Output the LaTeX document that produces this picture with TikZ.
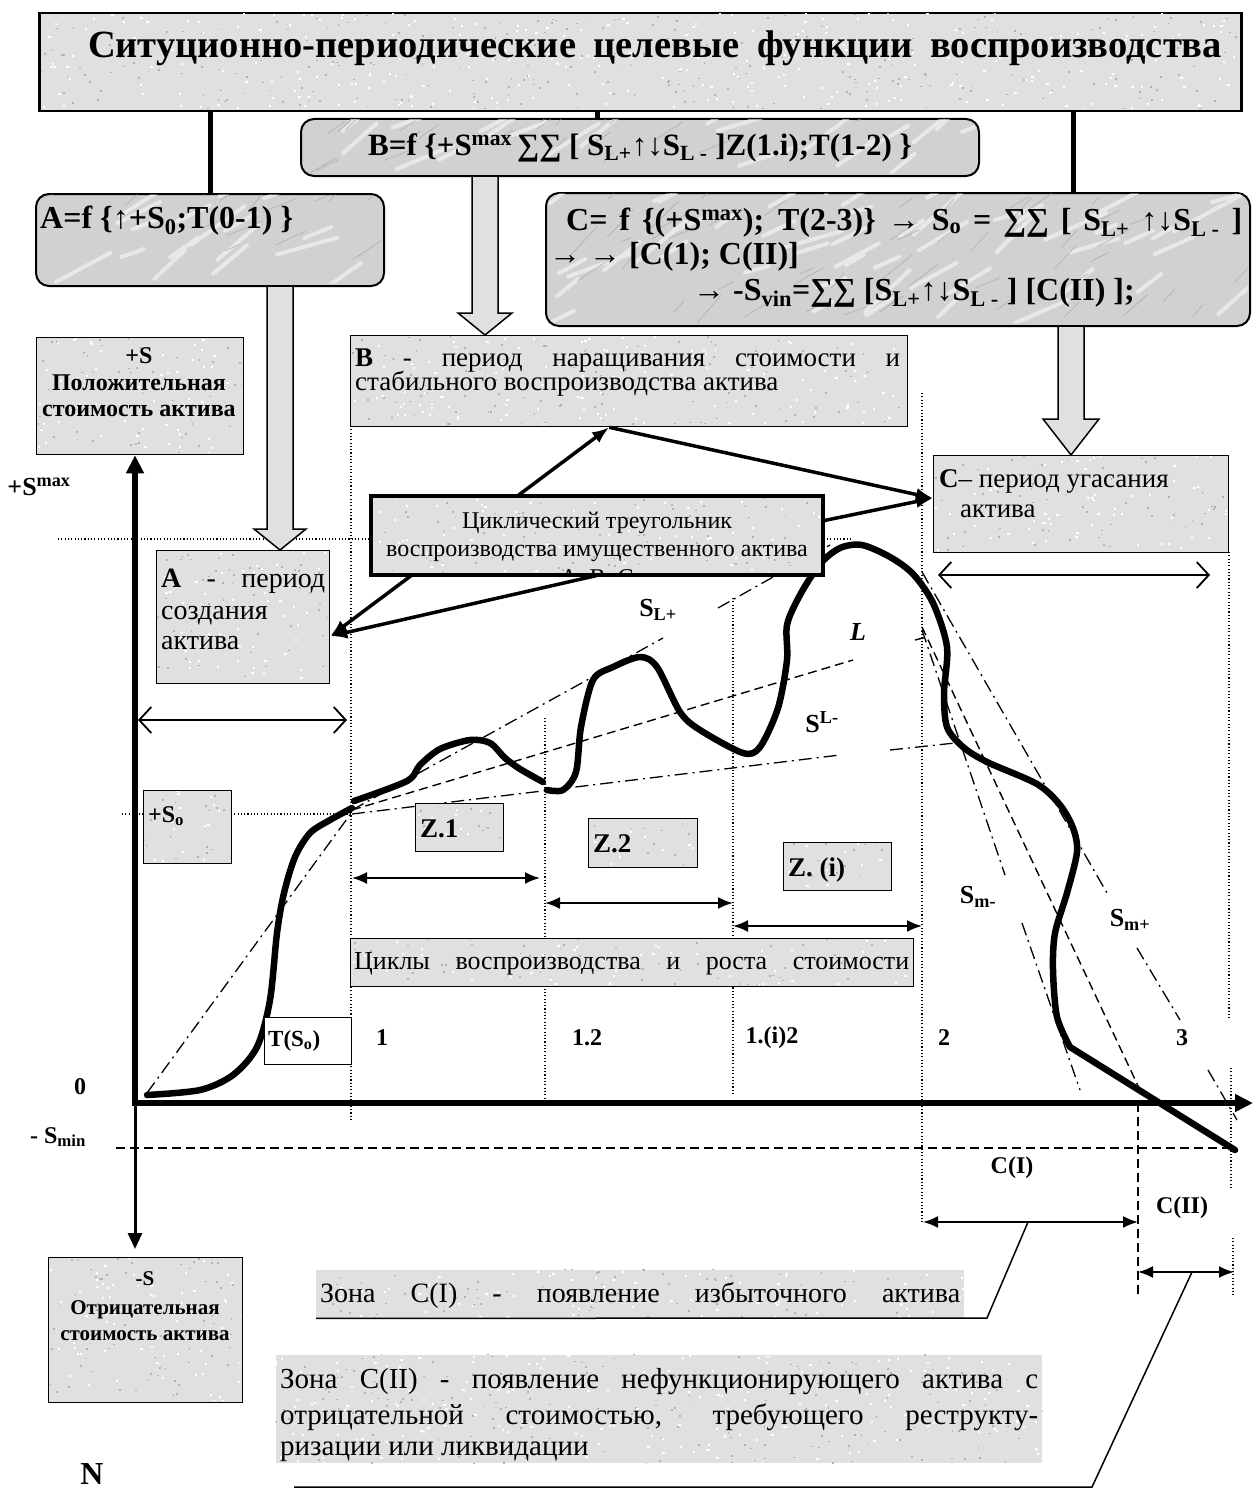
\documentclass[tikz,border=0pt]{standalone}
\usepackage{fontspec}
\setmainfont{Liberation Serif}
\usetikzlibrary{arrows.meta}
\definecolor{granite}{gray}{0.88}
\definecolor{marble}{gray}{0.82}
\definecolor{grain}{gray}{0.70}
\definecolor{vein}{gray}{0.91}
\newcommand\fsz[1]{\fontsize{#1}{#1}\selectfont}
\newcommand\lo[1]{\textsubscript{#1}}
\newcommand\hi[1]{\textsuperscript{#1}}
% hollow block arrow: #1 top point, #2 tip point, #3 head length, #4 head half-width
\newcommand\blockarrow[4]{%
  \filldraw[blockarr] ([xshift=-13pt]#1) -- ([xshift=-13pt,yshift=#3]#2)
    -- ([xshift=-#4,yshift=#3]#2) -- (#2) -- ([xshift=#4,yshift=#3]#2)
    -- ([xshift=13pt,yshift=#3]#2) -- ([xshift=13pt]#1);}
% granite grain inside a rectangle x1,y1,x2,y2
\newcommand\speckle[4]{%
  \pgfmathsetmacro\spw{#3-#1}\pgfmathsetmacro\sph{#4-#2}%
  \pgfmathtruncatemacro\spn{(\spw/20)*(\sph/20)}%
  \begin{scope}
    \clip (#1+1.5,#2+1.5) rectangle (#3-1.5,#4-1.5);
    \foreach \k in {1,...,\spn}{%
      \pgfmathsetmacro\spx{#1+rnd*\spw}\pgfmathsetmacro\spy{#2+rnd*\sph}%
      \fill[grain] (\spx,\spy) rectangle ++(1.8,1.6);}
    \foreach \k in {1,...,\spn}{%
      \pgfmathsetmacro\spx{#1+rnd*\spw}\pgfmathsetmacro\spy{#2+rnd*\sph}%
      \fill[white] (\spx,\spy) rectangle ++(2.2,2);}
  \end{scope}}
% marble veins inside a rounded rectangle x1,y1,x2,y2
\newcommand\marbleveins[4]{%
  \pgfmathsetmacro\spw{#3-#1}\pgfmathsetmacro\sph{#4-#2}%
  \pgfmathtruncatemacro\spn{(\spw/60)*(\sph/30)}%
  \begin{scope}
    \clip[rounded corners=12pt] (#1+1.5,#2+1.5) rectangle (#3-1.5,#4-1.5);
    \foreach \k in {1,...,\spn}{%
      \pgfmathsetmacro\spx{#1+rnd*\spw}\pgfmathsetmacro\spy{#2+rnd*\sph}%
      \pgfmathsetmacro\spl{20+rnd*50}\pgfmathsetmacro\spa{15+rnd*30}%
      \draw[vein, line width=4pt, line cap=round]
        (\spx,\spy) -- ++(-\spa:\spl);}
    \foreach \k in {1,...,\spn}{%
      \pgfmathsetmacro\spx{#1+rnd*\spw}\pgfmathsetmacro\spy{#2+rnd*\sph}%
      \pgfmathsetmacro\spl{10+rnd*30}\pgfmathsetmacro\spa{20+rnd*30}%
      \draw[grain, line width=0.7pt, line cap=round]
        (\spx,\spy) -- ++(-\spa:\spl);}
  \end{scope}}
\tikzset{
  plainbox/.style={draw, line width=1.3pt, fill=granite, inner sep=0, anchor=north west},
  roundbox/.style={draw, line width=2pt, rounded corners=13pt, fill=marble, inner sep=0, anchor=north west},
  whitebox/.style={draw, line width=1.3pt, fill=white, inner sep=0, anchor=north west},
  flatbox/.style={fill=granite, inner sep=0, anchor=north west},
  blockarr/.style={line width=1.5pt, fill=granite},
  link/.style={line width=5pt},
  dotl/.style={line width=1.1pt, dash pattern=on 1.1pt off 2.2pt},
  dashl/.style={line width=1.4pt, dash pattern=on 9pt off 5pt},
  dashdotl/.style={line width=1.3pt, dash pattern=on 13pt off 5pt on 2pt off 5pt},
  valuecurve/.style={line width=6.5pt, line join=round, line cap=round},
  mainaxis/.style={line width=5.5pt, -{Triangle[length=18pt,width=17pt]}},
  thinaxis/.style={line width=3pt, -{Triangle[length=16pt,width=14pt]}},
  cyclespan/.style={line width=2pt, {Latex[length=15pt,width=12pt]}-{Latex[length=15pt,width=12pt]}},
  openspan/.style={line width=1.8pt, {Straight Barb[length=12pt,width=26pt]}-{Straight Barb[length=12pt,width=26pt]}},
  callout/.style={line width=3.5pt},
  calltip/.style={-{Latex[length=17pt,width=13pt]}},
  leader/.style={line width=1.5pt},
  lbl/.style={inner sep=0, font=\bfseries\fsz{24}},
  txt/.style={inner sep=0, font=\fsz{24}},
  formula/.style={inner sep=0, anchor=base west, font=\bfseries\fsz{32}},
}
\begin{document}
\begin{tikzpicture}[x=1pt,y=-1pt]
\pgfmathsetseed{7}
\useasboundingbox (0,0) rectangle (1255,1493);

% ---------- guide lines
\draw[dotl] (58,539) -- (853,539);
\draw[dotl] (122,814) -- (350,814);
\draw[dotl] (351,426) -- (351,1120);
\draw[dotl] (545,718) -- (545,1100);
\draw[dotl] (733,598) -- (733,1095);
\draw[dotl] (922,393) -- (922,1222);
\draw[dotl] (1229,552) -- (1229,1018);
\draw[dotl] (1231,1068) -- (1231,1187);
\draw[dotl] (1233,1238) -- (1233,1295);
\draw[dashl] (116,1148) -- (1235,1148);
\draw[dashl] (1138,1103) -- (1138,1297);

% ---------- trend lines
\draw[dashdotl] (147,1093) -- (352,812);
\draw[dashdotl] (352,810) -- (663,638);
\draw[dashdotl] (718,608) -- (830,545);
\draw[dashl] (352,810) -- (853,660);
\draw[dashl] (915,640) -- (927,637);
\draw[dashdotl] (352,814) -- (840,755);
\draw[dashdotl] (890,750) -- (955,743);
\draw[dashdotl] (922,572) -- (1107,893);
\draw[dashdotl] (1137,948) -- (1180,1020);
\draw[dashdotl] (1208,1070) -- (1237,1120);
\draw[dashl] (922,627) -- (1140,1090);
\draw[dashdotl] (922,630) -- (1005,875);
\draw[dashdotl] (1022,923) -- (1080,1090);

% ---------- value curve
\draw[valuecurve] plot[smooth, tension=0.5] coordinates {
  (147,1095) (200,1090) (233,1075) (257,1047) (270,1000) (277,933) (284,893)
  (295,857) (310,833) (330,820) (352,808)};
\draw[valuecurve] plot[smooth, tension=0.5] coordinates {
  (354,801) (407,781) (420,765) (440,749) (470,740) (490,743) (505,758)
  (520,769) (543,782)};
\draw[valuecurve] plot[smooth, tension=0.5] coordinates {
  (547,790) (563,790) (576,772) (581,727) (593,680) (613,667) (640,657)
  (657,667) (680,712) (700,730) (743,753) (760,747) (778,708) (787,660)
  (787,625) (800,595) (820,564) (840,548) (862,545) (890,557) (913,574)
  (933,603) (947,647) (944,693) (947,727) (963,747) (987,762) (1037,784)
  (1060,805) (1073,828) (1077,852) (1067,893) (1055,933) (1053,970)
  (1057,1017) (1070,1047)} -- (1235,1150);

% ---------- period boxes
\node[plainbox, minimum width=557pt, minimum height=91pt] (Bp) at (350,335) {};
\node[plainbox, minimum width=173pt, minimum height=133pt] (Ap) at (156,550) {};
\node[plainbox, minimum width=295pt, minimum height=97pt] (Cp) at (933,455) {};
\speckle{350}{335}{907}{426}
\speckle{156}{550}{329}{683}
\speckle{933}{455}{1228}{552}

% ---------- cyclic triangle connectors
\coordinate (Atip) at ([yshift=-19pt]Ap.east);
\coordinate (Btip) at ([xshift=-20pt]Bp.south);
\coordinate (Ctip) at ([yshift=6pt]Cp.west);
\node[flatbox, minimum width=452pt, minimum height=79pt] (tri) at (371,496) {};
\draw[callout, {Latex[length=17pt,width=13pt]}-{Latex[length=17pt,width=13pt]}] (Atip) -- (Btip);
\draw[callout, calltip] (Btip) -- (Ctip);
\draw[callout, calltip] (tri.south) -- (Atip);
\draw[callout, calltip] ([yshift=15pt]tri.east) -- (Ctip);
\fill[granite] (tri.south west) rectangle (tri.north east);
\speckle{371}{496}{823}{575}
\begin{scope}
  \clip (tri.south west) rectangle (tri.north east);
  \node[txt, anchor=base] at (597,528) {Циклический треугольник};
  \node[txt, anchor=base] at (597,556) {воспроизводства имущественного актива};
  \node[txt, anchor=base] at (597,585) {А, В, С};
\end{scope}
\draw[line width=4pt] (tri.south west) rectangle (tri.north east);

% ---------- title and function boxes
\node[plainbox, line width=2.5pt, minimum width=1202pt, minimum height=98pt] (title) at (38,12) {};
\node[roundbox, minimum width=678pt, minimum height=57pt] (Bf) at (300,118) {};
\node[roundbox, minimum width=348pt, minimum height=92pt] (Af) at (35,193) {};
\node[roundbox, minimum width=704pt, minimum height=133pt] (Cf) at (545,192) {};
\speckle{38}{12}{1240}{110}
\marbleveins{300}{118}{978}{175}
\marbleveins{35}{193}{383}{285}
\marbleveins{545}{192}{1249}{325}
\coordinate (bx) at (597,0);
\coordinate (cx) at (1073,0);
\draw[link] (Af.north) -- (Af.north |- title.south);
\draw[link] (Bf.north -| bx) -- (title.south -| bx);
\draw[link] (Cf.north -| cx) -- (title.south -| cx);

% ---------- hollow block arrows
\coordinate (ax) at (280,0);
\coordinate (bax) at (485,0);
\coordinate (cax) at (1071,0);
\coordinate (aTop) at (Af.south -| ax);
\coordinate (aTip) at (Ap.north -| ax);
\coordinate (bTop) at (Bf.south -| bax);
\coordinate (bTip) at (Bp.north -| bax);
\coordinate (cTop) at (Cf.south -| cax);
\coordinate (cTip) at (Cp.north -| cax);
\blockarrow{aTop}{aTip}{21pt}{26pt}
\blockarrow{bTop}{bTip}{22pt}{27pt}
\blockarrow{cTop}{cTip}{36pt}{28pt}

% ---------- other boxes
\node[plainbox, minimum width=207pt, minimum height=117pt] (Spos) at (36,337) {};
\node[plainbox, minimum width=194pt, minimum height=145pt] (Sneg) at (48,1257) {};
\node[plainbox, minimum width=88pt, minimum height=73pt] (So) at (143,790) {};
\node[plainbox, minimum width=88pt, minimum height=48pt] (Z1) at (415,803) {};
\node[plainbox, minimum width=109pt, minimum height=49pt] (Z2) at (588,818) {};
\node[plainbox, minimum width=108pt, minimum height=48pt] (Zi) at (783,842) {};
\node[plainbox, minimum width=563pt, minimum height=48pt] (cyc) at (350,938) {};
\node[whitebox, minimum width=87pt, minimum height=47pt] (TS) at (264,1017) {};
\node[flatbox, minimum width=648pt, minimum height=48pt] (zone1) at (316,1270) {};
\node[flatbox, minimum width=766pt, minimum height=108pt] (zone2) at (276,1355) {};
\speckle{36}{337}{243}{454}
\speckle{48}{1257}{242}{1402}
\speckle{143}{790}{231}{863}
\speckle{415}{803}{503}{851}
\speckle{588}{818}{697}{867}
\speckle{783}{842}{891}{890}
\speckle{350}{938}{913}{986}
\speckle{314}{1268}{966}{1320}
\speckle{274}{1353}{1044}{1465}

% ---------- texts
\node[inner sep=0, anchor=base, font=\bfseries\fsz{38.5}] at (655,58)
  {\makebox[1134pt][s]{Ситуционно-периодические целевые функции воспроизводства}};
\node[formula, font=\bfseries\fsz{31}] at (368,155)
  {B=f \{+S\hi{max}\,∑∑ [ S\lo{L+}↑↓S\lo{L -} ]Z(1.i);T(1-2) \}};
\node[formula] at (40,228)
  {A=f \{↑+S\lo{0};T(0-1) \}};
\node[formula] at (566,230)
  {\makebox[676pt][s]{C= f \{(+S\hi{max}); T(2-3)\} → S\lo{o} = ∑∑ [ S\lo{L+} ↑↓S\lo{L -} ]}};
\node[formula] at (549,264)
  {→ → [C(1); C(II)]};
\node[formula] at (693,300)
  {→ -S\lo{vin}=∑∑ [S\lo{L+}↑↓S\lo{L -} ] [C(II) ];};

\node[txt, anchor=base west, font=\fsz{27}] at (355,366) {\makebox[545pt][s]{\textbf{B} - период наращивания стоимости и}};
\node[txt, anchor=base west, font=\fsz{27}] at (355,390) {стабильного воспроизводства актива};
\node[txt, anchor=base west, font=\fsz{28}] at (161,587) {\makebox[164pt][s]{\textbf{A} - период}};
\node[txt, anchor=base west, font=\fsz{28}] at (161,619) {создания};
\node[txt, anchor=base west, font=\fsz{28}] at (161,649) {актива};
\node[txt, anchor=base west, font=\fsz{27}] at (939,487) {\textbf{C}– период угасания};
\node[txt, anchor=base west, font=\fsz{27}] at (960,517) {актива};

\node[inner sep=0, anchor=base, font=\bfseries\fsz{24}] at (139,363) {+S};
\node[inner sep=0, anchor=base, font=\bfseries\fsz{24}] at (139,390) {Положительная};
\node[inner sep=0, anchor=base, font=\bfseries\fsz{24}] at (139,416) {стоимость актива};
\node[inner sep=0, anchor=base, font=\bfseries\fsz{21}] at (145,1285) {-S};
\node[inner sep=0, anchor=base, font=\bfseries\fsz{21}] at (145,1314) {Отрицательная};
\node[inner sep=0, anchor=base, font=\bfseries\fsz{21}] at (145,1340) {стоимость актива};

\node[lbl, font=\bfseries\fsz{24}, anchor=base west] at (148,822) {+S\lo{o}};
\node[lbl, font=\bfseries\fsz{27}, anchor=base west] at (420,837) {Z.1};
\node[lbl, font=\bfseries\fsz{27}, anchor=base west] at (593,852) {Z.2};
\node[lbl, font=\bfseries\fsz{27}, anchor=base west] at (788,876) {Z. (i)};
\node[lbl, font=\bfseries\fsz{23}, anchor=base west] at (268,1046) {T(S\lo{o})};
\node[txt, anchor=base west, font=\fsz{26}] at (354,969) {\makebox[555pt][s]{Циклы воспроизводства и роста стоимости}};

\node[lbl, font=\bfseries\fsz{26}] at (39,487) {+S\hi{max}};
\node[lbl] at (80,1087) {0};
\node[lbl] at (58,1137) {- S\lo{min}};
\node[lbl, font=\bfseries\fsz{32}] at (92,1474) {N};
\node[lbl] at (1012,1168) {C(I)};
\node[lbl] at (1182,1208) {C(II)};
\node[lbl] at (382,1038) {1};
\node[lbl] at (587,1038) {1.2};
\node[lbl] at (772,1038) {1.(i)2};
\node[lbl] at (944,1038) {2};
\node[lbl] at (1182,1038) {3};
\node[lbl, font=\bfseries\fsz{26}] at (658,610) {S\lo{L+}};
\node[lbl, font=\bfseries\itshape\fsz{26}] at (858,632) {L};
\node[lbl, font=\bfseries\fsz{26}] at (822,722) {S\hi{L-}};
\node[lbl, font=\bfseries\fsz{26}] at (978,897) {S\lo{m-}};
\node[lbl, font=\bfseries\fsz{26}] at (1130,920) {S\lo{m+}};

\node[inner sep=0, anchor=base west, font=\fsz{28}] at (320,1302)
  {\makebox[640pt][s]{Зона С(I) - появление избыточного актива}};
\node[inner sep=0, anchor=base west, font=\fsz{29}] at (280,1388)
  {\makebox[758pt][s]{Зона С(II) - появление нефункционирующего актива с}};
\node[inner sep=0, anchor=base west, font=\fsz{29}] at (280,1424)
  {\makebox[758pt][s]{отрицательной стоимостью, требующего реструкту-}};
\node[inner sep=0, anchor=base west, font=\fsz{29}] at (280,1455)
  {ризации или ликвидации};

% ---------- spans
\draw[openspan] (138,720) -- (347,720);
\draw[openspan] (938,575) -- (1210,575);
\draw[cyclespan] (352,878) -- (540,878);
\draw[cyclespan] (545,903) -- (733,903);
\draw[cyclespan] (733,926) -- (922,926);
\draw[cyclespan] (923,1222) -- (1138,1222);
\draw[cyclespan] (1138,1272) -- (1234,1272);

% ---------- leaders to the zone notes
\draw[leader] (zone1.south west) -- (987,1318) -- (1028,1222);
\draw[leader] (294,1487) -- (1092,1487) -- (1192,1272);

% ---------- axes
\coordinate (O) at (135,1103);
\coordinate (ydown) at (135,1249);
\coordinate (xend) at (1253,1103);
\draw[mainaxis] ([yshift=-3pt]O) -- (Spos.south -| O);
\draw[thinaxis] (O) -- (ydown);
\draw[mainaxis] ([xshift=-2.5pt]O) -- (xend);
\end{tikzpicture}
\end{document}
